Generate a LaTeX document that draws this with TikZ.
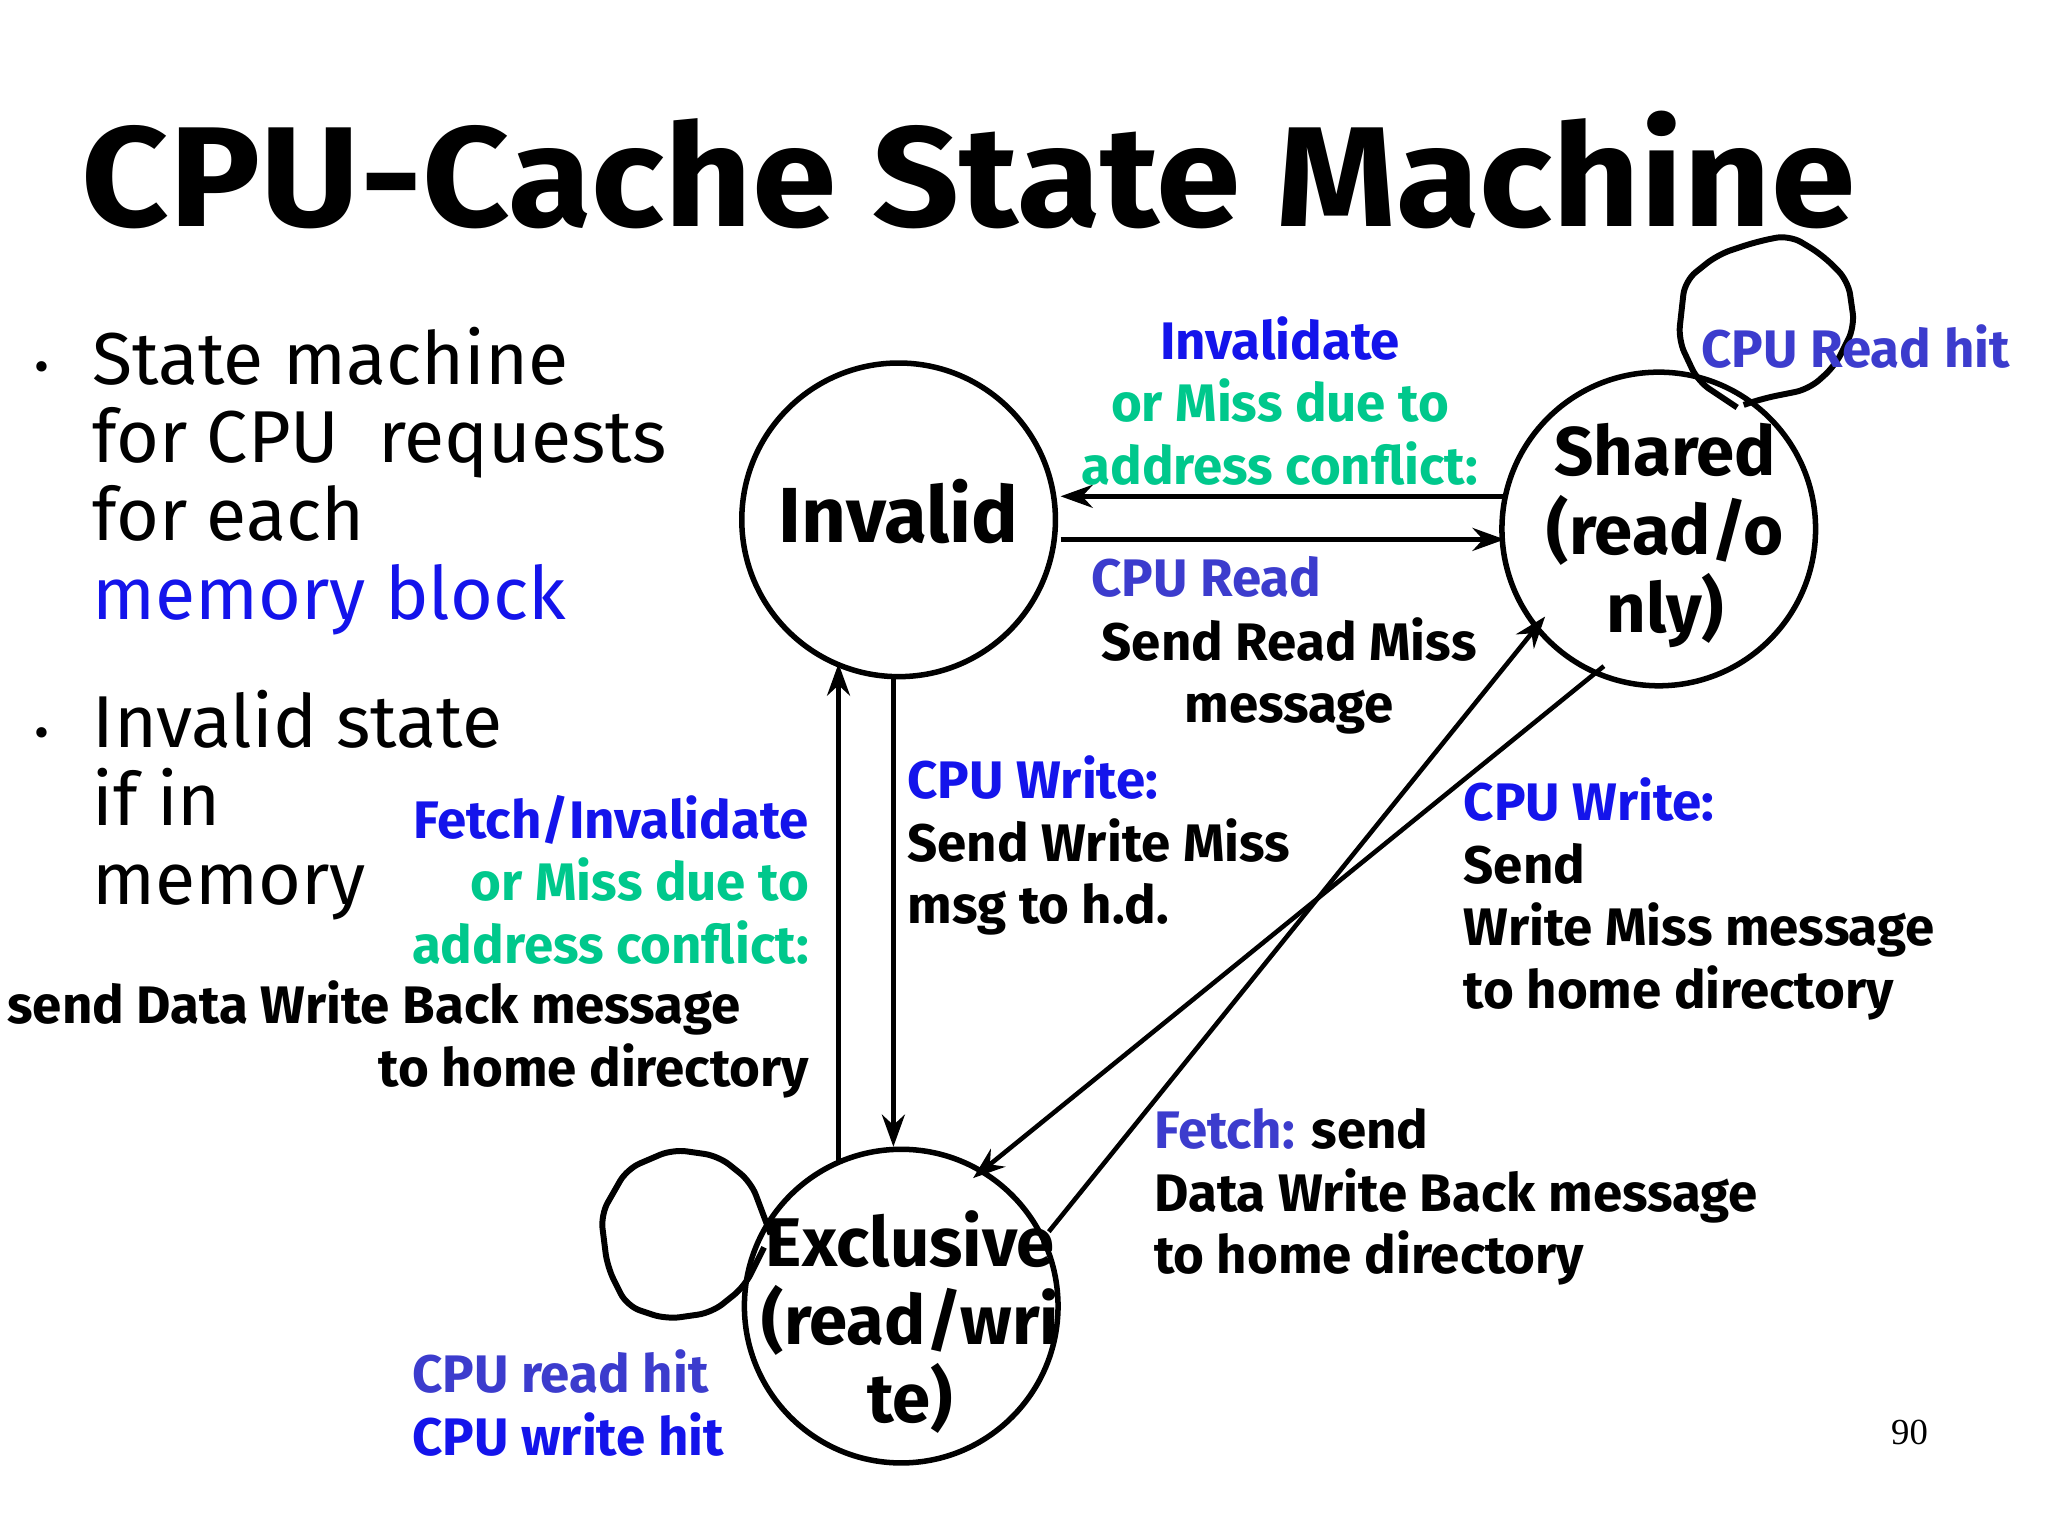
\documentclass[tikz,border=0pt]{standalone}
\usepackage{fontspec}
\setmainfont{Fira Sans}
\newfontfamily\serifnum{Liberation Serif}
\usetikzlibrary{arrows.meta}
\definecolor{bb}{RGB}{20,20,235}
\definecolor{sb}{RGB}{60,60,205}
\definecolor{gg}{RGB}{0,200,140}
\begin{document}
\begin{tikzpicture}[x=0.01cm,y=-0.01cm,
  st/.style={circle,draw,line width=1.2pt,minimum size=2.4cm,inner sep=0pt,outer sep=0pt},
  stt/.style={align=center,inner sep=0pt,font=\fontsize{15}{17}\selectfont\bfseries},
  ar/.style={-{Stealth[length=7pt,width=5pt]},line width=1pt},
  lb/.style={font=\fontsize{11.5}{13.6}\selectfont\bfseries,inner sep=0pt},
  bt/.style={font=\fontsize{16}{17}\selectfont,align=left,inner sep=0pt,anchor=north west}]
\useasboundingbox (0,0) rectangle (1568,1176);
\node[font=\fontsize{31}{35}\selectfont\bfseries,anchor=west,inner sep=0pt,xscale=1.07] (title) at (62,130) {CPU-Cache State Machine};
\node[bt] (b1) at (70,250) {State machine\\for CPU\ \ requests\\for each\\\textcolor{bb}{memory block}};
\node[bt] (b2) at (70,528) {Invalid state\\if in\\memory};
\node (d1) at (32,285) {\textbullet};
\node (d2) at (32,565) {\textbullet};
\node[st] (inv) at (688,398) {};
\node[st] (sh) at (1270,405) {};
\node[st] (ex) at (690,1000) {};
\node[stt,font=\fontsize{17}{19}\selectfont\bfseries] (invt) at (688,392) {Invalid};
\node[stt] (sht) at (1275,410) {Shared\\(read/o\\nly)};
\node[stt] (ext) at (697,1012) {Exclusive\\(read/wri\\te)};
\draw[ar] (1152,380) -- (812,380);
\draw[ar] (812,413) -- (1152,413);
\draw[ar] (642,890) -- (642,508);
\draw[ar] (684,518) -- (684,878);
\draw[ar] (1228,510) -- (745,902);
\draw[ar] (803,943) -- (1183,472);
\draw[line width=1.3pt,rounded corners=3pt] (1330,312) -- (1300,292) -- (1285,260) -- (1290,215) -- (1315,195) -- (1345,185) -- (1370,180) -- (1395,195) -- (1415,215) -- (1420,250) -- (1405,280) -- (1385,298) -- (1350,305) -- (1335,310);
\draw[line width=1.3pt,rounded corners=3pt] (590,945) -- (575,905) -- (550,885) -- (515,880) -- (480,895) -- (460,930) -- (465,970) -- (480,1000) -- (510,1010) -- (545,1005) -- (570,985) -- (585,955);
\node[lb,anchor=west,text=sb] (l1) at (1302,265) {CPU Read hit};
\node[lb,align=center] (l2) at (980,307) {\textcolor{bb}{Invalidate}\\\textcolor{gg}{or Miss due to}\\\textcolor{gg}{address conflict:}};
\node[lb,anchor=west,text=sb] (l3a) at (835,442) {CPU Read};
\node[lb,align=center,anchor=north] (l3) at (987,472) {Send Read Miss\\message};
\node[lb,align=left,anchor=north west] (l4) at (694,578) {\textcolor{bb}{CPU Write:}\\Send Write Miss\\msg to h.d.};
\node[lb,align=right,anchor=north east] (l5) at (620,608) {\textcolor{bb}{Fetch/Invalidate}\\\textcolor{gg}{or Miss due to}\\\textcolor{gg}{address conflict:}};
\node[lb,anchor=west] (l6) at (5,772) {send Data Write Back message};
\node[lb,anchor=east] (l6b) at (620,820) {to home directory};
\node[lb,align=left,anchor=north west] (l7) at (1120,595) {\textcolor{bb}{CPU Write:}\\Send\\Write Miss message\\to home directory};
\node[lb,align=left,anchor=north west] (l8) at (883,848) {\textcolor{sb}{Fetch:} send\\Data Write Back message\\to home directory};
\node[lb,align=left,anchor=north west] (l9) at (315,1033) {\textcolor{sb}{CPU read hit}\\\textcolor{bb}{CPU write hit}};
\node[font=\serifnum\fontsize{8}{9}\selectfont] (pg) at (1462,1097) {90};
\end{tikzpicture}
\end{document}
